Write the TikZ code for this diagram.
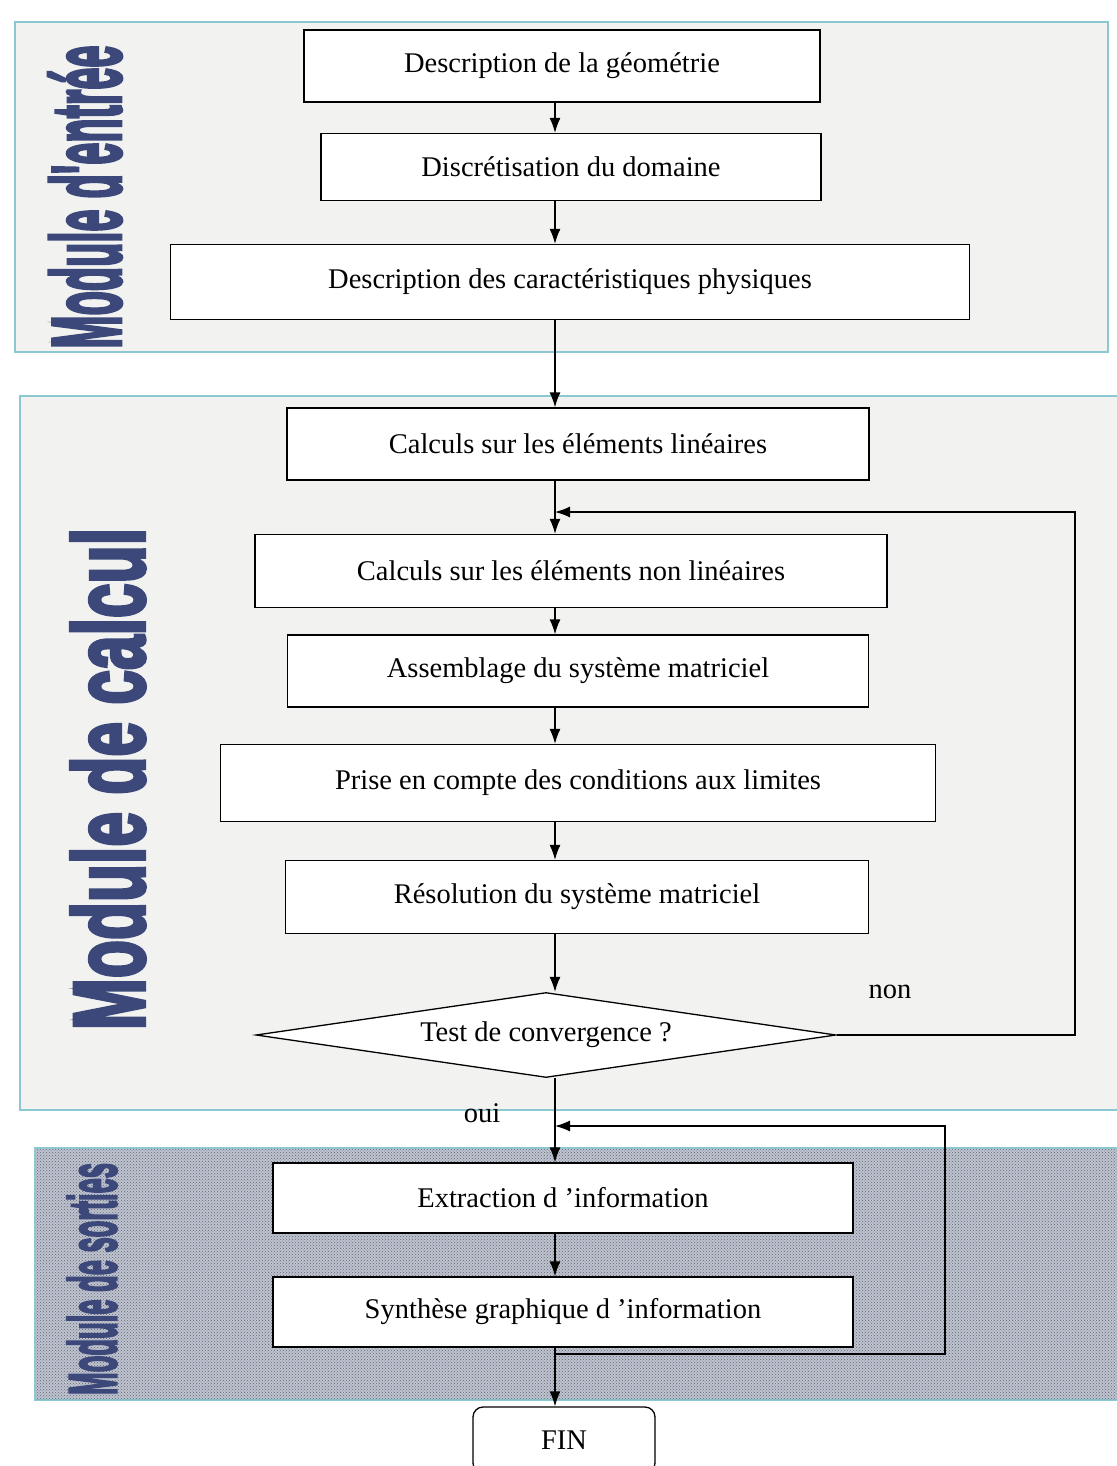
\documentclass[tikz,border=0pt]{standalone}
\usepackage{fontspec}
\setmainfont{Liberation Serif}
\newfontfamily\modulefont[BoldFeatures={FakeBold=4}]{Liberation Sans}
\usetikzlibrary{shapes.geometric,arrows.meta,patterns}
\definecolor{cadre}{RGB}{140,200,210}
\definecolor{fondpanneau}{RGB}{242,242,240}
\definecolor{fondsortie}{RGB}{190,195,210}
\definecolor{titremodule}{RGB}{60,72,122}

\begin{document}
\begin{tikzpicture}[x=1pt,y=-1pt,font=\fontsize{28.5}{34}\selectfont,
  etape/.style={draw, rectangle, fill=white, line width=1.3pt, minimum height=70pt, inner sep=0pt},
  fleche/.style={-{Latex[length=15pt,width=11pt]}, line width=1.3pt},
  panneau/.style={draw=cadre, line width=1.5pt, fill=fondpanneau},
  titre/.style={rotate=90, text=titremodule, inner sep=0pt}]

\useasboundingbox (0,0) rectangle (1116,1466);

% Panneaux des modules
\filldraw[panneau] (15,22) rectangle (1108,352);
\filldraw[panneau] (20,396) rectangle (1122,1110);
\filldraw[panneau, fill=fondsortie] (35,1148) rectangle (1122,1400);
\fill[pattern=crosshatch dots, pattern color=gray!80!black] (36,1149) rectangle (1122,1399);

% Titres des modules
\node[titre] (titre1) at (85,197) {\resizebox{303pt}{72pt}{\modulefont\bfseries Module d'entrée}};
\node[titre] (titre2) at (108,779) {\resizebox{502pt}{73pt}{\modulefont\bfseries Module de calcul}};
\node[titre] (titre3) at (92,1279) {\resizebox{232pt}{49pt}{\modulefont\bfseries Module de sorties}};

% Colonne des flèches
\coordinate (col) at (555,0);

% Module d'entrée
\node[etape, minimum width=516pt, minimum height=72pt] (geom) at (562,66) {Description de la géométrie};
\node[etape, minimum width=500pt, minimum height=67pt] (disc) at (571,167) {Discrétisation du domaine};
\node[etape, minimum width=799pt, minimum height=75pt] (phys) at (570,282) {Description des caractéristiques physiques};

% Module de calcul
\node[etape, minimum width=582pt, minimum height=72pt] (lin) at (578,444) {Calculs sur les éléments linéaires};
\node[etape, minimum width=632pt, minimum height=73pt] (nonlin) at (571,571) {Calculs sur les éléments non linéaires};
\node[etape, minimum width=581pt, minimum height=72pt] (assem) at (578,671) {Assemblage du système matriciel};
\node[etape, minimum width=715pt, minimum height=77pt] (cl) at (578,783) {Prise en compte des conditions aux limites};
\node[etape, minimum width=583pt, minimum height=73pt] (resol) at (577,897) {Résolution du système matriciel};
\node[draw, diamond, fill=white, line width=1.3pt, minimum width=580pt, minimum height=85pt, inner sep=0pt, shape aspect=6.8] (test) at (546,1035) {Test de convergence ?};
\node (non) at (890,992) {non};
\node (oui) at (482,1113) {oui};

% Module de sorties
\node[etape, minimum width=580pt] (extr) at (563,1198) {Extraction d 'information};
\node[etape, minimum width=580pt] (synth) at (563,1312) {Synthèse graphique d 'information};
\node[draw, rounded corners=10pt, fill=white, line width=1.3pt, minimum width=182pt, minimum height=66pt] (fin) at (564,1440) {FIN};

% Flèches
\draw[fleche] (geom.south -| col) -- (disc.north -| col);
\draw[fleche] (disc.south -| col) -- (phys.north -| col);
\draw[fleche] (phys.south -| col) -- (lin.north -| col);
\draw[fleche] (lin.south -| col) -- (nonlin.north -| col);
\draw[fleche] (nonlin.south -| col) -- (assem.north -| col);
\draw[fleche] (assem.south -| col) -- (cl.north -| col);
\draw[fleche] (cl.south -| col) -- (resol.north -| col);
\draw[fleche] (resol.south -| col) -- (test.north -| col);
\draw[fleche] (test.south -| col) -- (extr.north -| col);
\draw[fleche] (extr.south -| col) -- (synth.north -| col);
\draw[fleche] (synth.south -| col) -- (fin.north -| col);

% Boucles de retour
\coordinate (coinA) at (1075,512);
\coordinate (retour1) at (555,512);
\draw[fleche] (test.east) -| (coinA) -- (retour1);
\coordinate (depart2) at (555,1354);
\coordinate (coinB) at (945,1126);
\coordinate (retour2) at (555,1126);
\draw[fleche] (depart2) -| (coinB) -- (retour2);

\end{tikzpicture}
\end{document}
